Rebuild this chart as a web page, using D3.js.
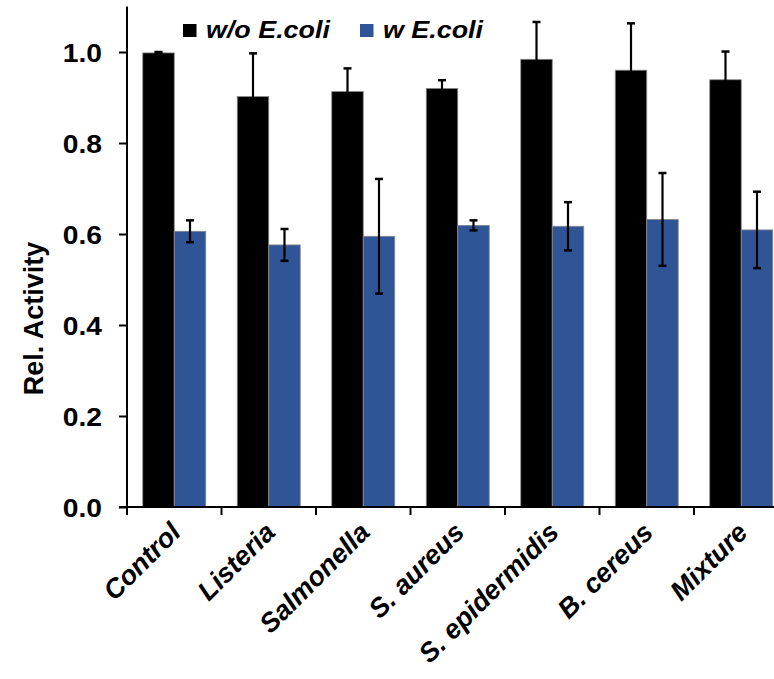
<!DOCTYPE html>
<html><head><meta charset="utf-8">
<script src="https://cdn.jsdelivr.net/npm/d3@7"></script>
<style>body{margin:0;background:#fff}svg{display:block}</style>
</head><body>
<script>
const categories = ["Control","Listeria","Salmonella","S. aureus","S. epidermidis","B. cereus","Mixture"];
const seriesNames = ["w/o E.coli","w E.coli"];
const woEcoli = [0.998,0.902,0.913,0.920,0.984,0.960,0.939];
const woEcoliErr = [0.002,0.095,0.051,0.018,0.082,0.103,0.062];
const wEcoli = [0.606,0.576,0.595,0.619,0.617,0.632,0.609];
const wEcoliErr = [0.024,0.035,0.126,0.011,0.053,0.102,0.084];
const yTicks = [0,0.2,0.4,0.6,0.8,1.0];
const colors = ["#000000","#2F5597"];

const W=774,H=679;
const svg=d3.select("body").append("svg").attr("width",W).attr("height",H);
const font="Liberation Sans, Arial, sans-serif";
const x0=127, y0=507;
const x=d3.scaleBand().domain(categories).range([x0,x0+7*94.5]).padding(0);
const xs=d3.scaleBand().domain(seriesNames).range([x.bandwidth()/6,x.bandwidth()*5/6]).padding(0);
const y=d3.scaleLinear().domain([0,1.1]).range([y0,6.5]);

const data=[];
categories.forEach((c,i)=>{
  data.push({c,s:seriesNames[0],v:woEcoli[i],e:woEcoliErr[i],col:colors[0]});
  data.push({c,s:seriesNames[1],v:wEcoli[i],e:wEcoliErr[i],col:colors[1]});
});

svg.append("g").selectAll("rect").data(data).join("rect")
  .attr("x",d=>x(d.c)+xs(d.s)).attr("width",xs.bandwidth())
  .attr("y",d=>y(d.v)).attr("height",d=>y0-y(d.v))
  .attr("fill",d=>d.col).attr("stroke","#8a8a8a").attr("stroke-width",0.8);

const eb=svg.append("g").attr("stroke","#000");
data.forEach(d=>{
  const cx=x(d.c)+xs(d.s)+xs.bandwidth()/2;
  eb.append("line").attr("x1",cx).attr("x2",cx).attr("y1",y(d.v+d.e)).attr("y2",y(d.v-d.e)).attr("stroke-width",2.2);
  [d.v+d.e,d.v-d.e].forEach(t=>eb.append("line").attr("x1",cx-4).attr("x2",cx+4).attr("y1",y(t)).attr("y2",y(t)).attr("stroke-width",2.5));
});

// Y axis
const ya=svg.append("g").attr("transform",`translate(${x0},0)`)
  .call(d3.axisLeft(y).tickValues(yTicks).tickFormat(d3.format(".1f")).tickSize(8).tickPadding(14));
ya.select(".domain").attr("stroke-width",2).attr("d",`M0,${y(1.1)}V${y0}`);
ya.selectAll(".tick line").attr("stroke-width",2);
ya.selectAll("text").attr("font-family",font).attr("font-weight","bold").attr("font-size",25).attr("fill","#000")
  .attr("x",-25/1.13).attr("dy","0.36em").attr("transform","scale(1.13,1)");

// X axis
const xa=svg.append("g").attr("transform",`translate(0,${y0})`);
xa.append("line").attr("x1",x0-8).attr("x2",W).attr("y1",0).attr("y2",0).attr("stroke","#000").attr("stroke-width",2);
categories.forEach(c=>{
  xa.append("line").attr("x1",x(c)).attr("x2",x(c)).attr("y1",0).attr("y2",8).attr("stroke","#000").attr("stroke-width",2);
});
xa.selectAll("text.cat").data(categories).join("text").attr("class","cat")
  .attr("transform",c=>`translate(${x(c)+x.bandwidth()/2+8},${27}) rotate(-45)`)
  .attr("text-anchor","end").attr("font-family",font).attr("font-weight","bold").attr("font-style","italic")
  .attr("font-size",27).text(c=>c);

// Y title
svg.append("text").attr("transform","translate(43,318.5) rotate(-90)").attr("text-anchor","middle")
  .attr("font-family",font).attr("font-weight","bold").attr("font-size",27).text("Rel. Activity");

// Legend
const lg=[{n:seriesNames[0],c:colors[0],x:183},{n:seriesNames[1],c:colors[1],x:360}];
lg.forEach(l=>{
  svg.append("rect").attr("x",l.x).attr("y",24).attr("width",13.5).attr("height",13).attr("fill",l.c);
  svg.append("text").attr("transform",`translate(${l.x+23},37.5) scale(1.12,1)`).attr("font-family",font).attr("font-weight","bold")
    .attr("font-style","italic").attr("font-size",24).text(l.n);
});
</script>
</body></html>
